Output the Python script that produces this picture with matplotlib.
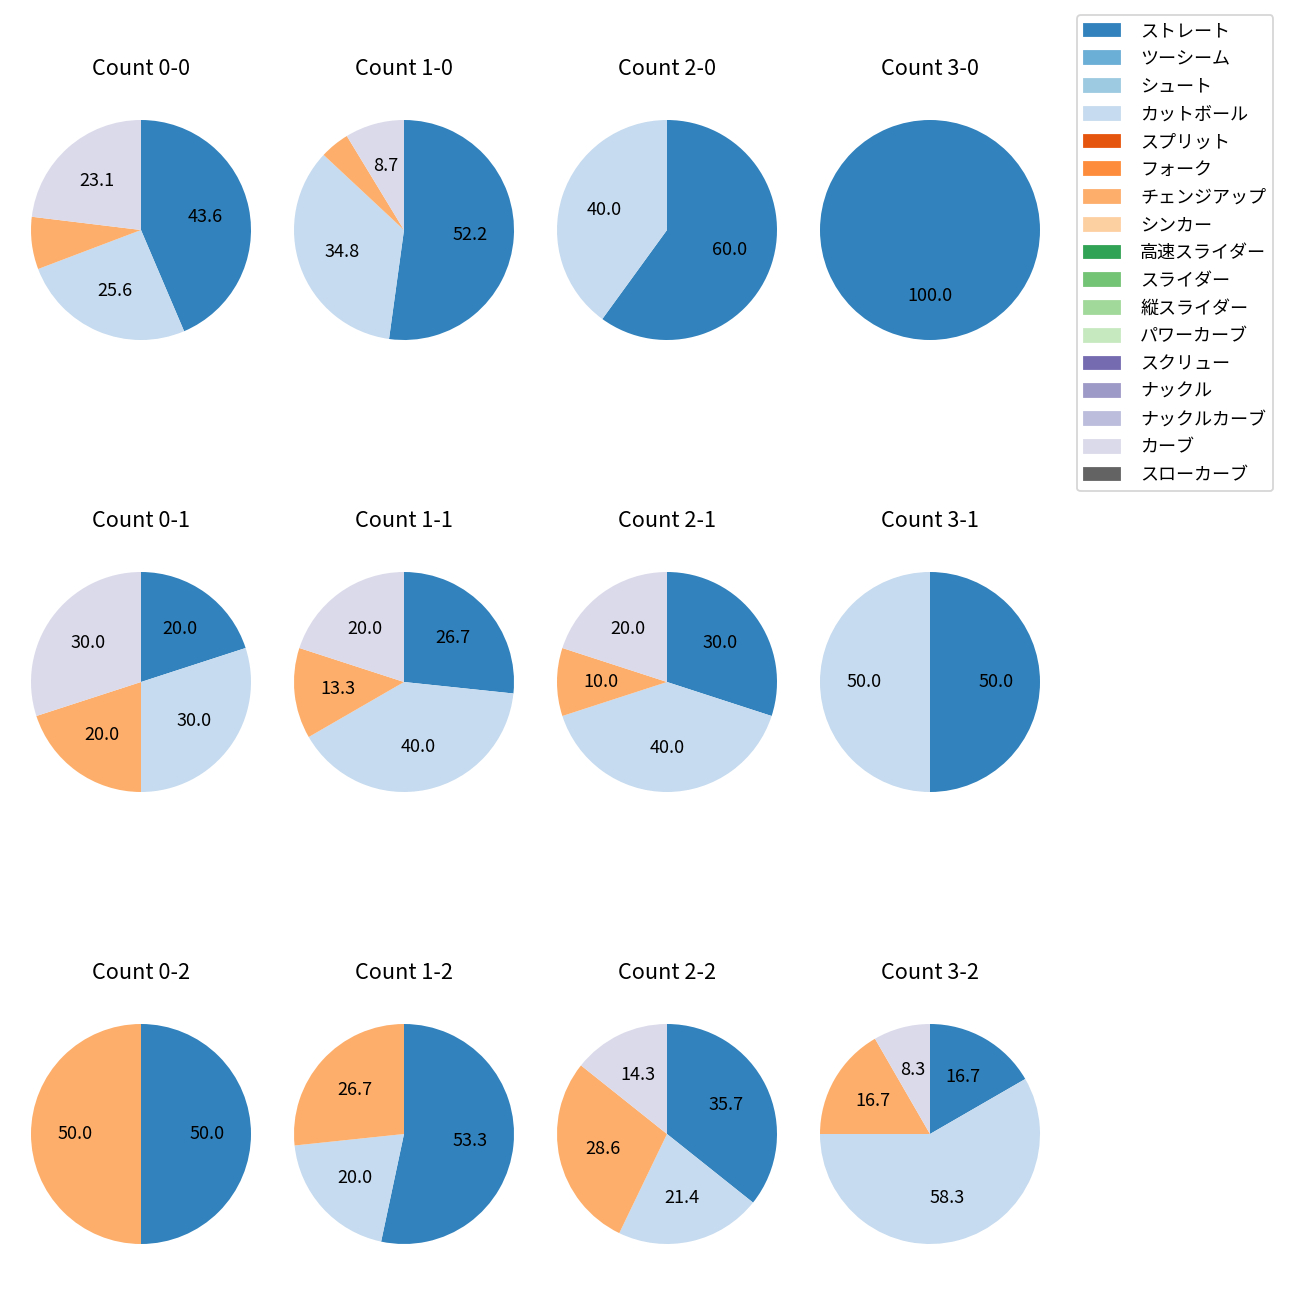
import numpy as np
import matplotlib
matplotlib.use('Agg')
from matplotlib import pyplot as plt
from matplotlib.patches import Patch

plt.rcParams['font.family'] = ['Noto Sans CJK JP', 'DejaVu Sans']

pitch_types = ['ストレート', 'ツーシーム', 'シュート', 'カットボール', 'スプリット', 'フォーク',
               'チェンジアップ', 'シンカー', '高速スライダー', 'スライダー', '縦スライダー',
               'パワーカーブ', 'スクリュー', 'ナックル', 'ナックルカーブ', 'カーブ', 'スローカーブ']

# pitch counts per ball-strike count (only the types that were thrown)
# order: ストレート, カットボール, チェンジアップ, カーブ
counts = ['0-0', '1-0', '2-0', '3-0',
          '0-1', '1-1', '2-1', '3-1',
          '0-2', '1-2', '2-2', '3-2']
straight = [17, 12, 3, 1, 2, 4, 3, 1, 1, 8, 5, 2]
cutter   = [10, 8, 2, 0, 3, 6, 4, 1, 0, 3, 3, 7]
changeup = [3, 1, 0, 0, 2, 2, 1, 0, 1, 4, 4, 2]
curve    = [9, 2, 0, 0, 3, 3, 2, 0, 0, 0, 2, 1]

cmap = plt.get_cmap('tab20c')
colors = [cmap(i) for i in range(17)]

fig = plt.figure(figsize=(10, 10), dpi=130)

# pixel centres of the pies (in the 1300 px output)
col_x = [141, 404, 667, 930]
row_y = [230, 682, 1134]
size = 275  # axes box (pie radius is 80% of it)

for i, c in enumerate(counts):
    vals = np.zeros(17)
    vals[0] = straight[i]
    vals[3] = cutter[i]
    vals[6] = changeup[i]
    vals[15] = curve[i]
    r, col = divmod(i, 4)
    cx, cy = col_x[col], row_y[r]
    ax = fig.add_axes([(cx - size / 2) / 1300, 1 - (cy + size / 2) / 1300,
                       size / 1300, size / 1300])
    ax.pie(vals, colors=colors, startangle=90, counterclock=False,
           autopct=lambda p: f'{p:.1f}' if p >= 8 else '')
    ax.set_title(f'Count {c}', pad=9.5)

handles = [Patch(color=colors[k], label=pitch_types[k]) for k in range(17)]
fig.legend(handles=handles, loc='upper left', bbox_to_anchor=(1068 / 1300, 1 - 6 / 1300),
           labelspacing=0.54, handletextpad=1.1)

plt.savefig('out.png')
